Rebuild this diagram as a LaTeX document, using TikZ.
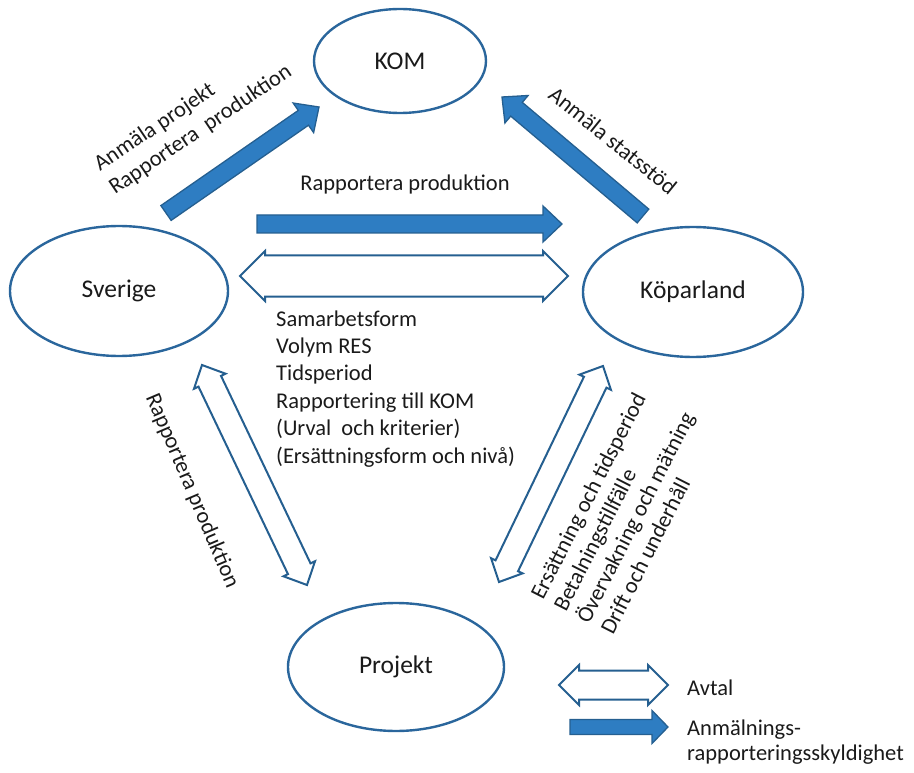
\documentclass[tikz,border=0pt]{standalone}
\usepackage{fontspec}
\setmainfont{Carlito}
\usetikzlibrary{calc,shapes.geometric}
\definecolor{afill}{HTML}{2E7DC2}
\definecolor{aline}{HTML}{255F90}
\definecolor{eline}{HTML}{2A669C}
\definecolor{txt}{HTML}{1A1A1A}

% filled single block arrow: from, to, half shaft, half head, head length
\newcommand{\fatarrow}[5]{%
  \coordinate (fh) at ($(#2)!#5!(#1)$);
  \draw[solidarrow] ($(#1)!#3!90:(#2)$) -- ($(fh)!#3!90:(#2)$) -- ($(fh)!#4!90:(#2)$) -- (#2)
     -- ($(fh)!#4!-90:(#2)$) -- ($(fh)!#3!-90:(#2)$) -- ($(#1)!#3!-90:(#2)$) -- cycle;}
% hollow double block arrow: end, end, half shaft, half head, head length
\newcommand{\twinarrow}[5]{%
  \coordinate (ta) at ($(#1)!#5!(#2)$);
  \coordinate (tb) at ($(#2)!#5!(#1)$);
  \draw[hollowarrow] (#1) -- ($(ta)!#4!90:(#2)$) -- ($(ta)!#3!90:(#2)$) -- ($(tb)!#3!90:(#2)$)
     -- ($(tb)!#4!90:(#2)$) -- (#2) -- ($(tb)!#4!-90:(#2)$) -- ($(tb)!#3!-90:(#2)$)
     -- ($(ta)!#3!-90:(#2)$) -- ($(ta)!#4!-90:(#2)$) -- cycle;}

\begin{document}
\begin{tikzpicture}[x=1pt,y=-1pt,
  lbl/.style={font=\fontsize{22.5}{27.4}\selectfont, text=txt, inner sep=0pt},
  ell/.style={ellipse, draw=eline, line width=2.4pt, inner sep=0pt, text=txt,
              font=\fontsize{25.5}{30}\selectfont},
  solidarrow/.style={fill=afill, draw=aline, line width=1.3pt, line join=miter},
  hollowarrow/.style={fill=white, draw=aline, line width=2pt, line join=miter}]
\useasboundingbox (0,0) rectangle (914,773);

% ellipses
\node[ell, minimum width=172pt, minimum height=104pt] (kom) at (400,61) {KOM};
\node[ell, minimum width=218pt, minimum height=130pt] (sve) at (119,291) {Sverige};
\node[ell, minimum width=220pt, minimum height=130pt] (kop) at (693,292) {Köparland};
\node[ell, minimum width=216pt, minimum height=128pt] (pro) at (396,667) {Projekt};

% arrow end points
\coordinate (a1s) at (166,213); \coordinate (a1e) at (319,107);
\coordinate (a2s) at (257,224); \coordinate (a2e) at (562,224);
\coordinate (a3s) at (643,216); \coordinate (a3e) at (502,97);
\coordinate (d1a) at (240,276); \coordinate (d1b) at (568,276);
\coordinate (d2a) at (202,365); \coordinate (d2b) at (307,585);
\coordinate (d3a) at (499,582); \coordinate (d3b) at (603,366);
\coordinate (l1a) at (559,685); \coordinate (l1b) at (668,685);
\coordinate (l2a) at (570,727); \coordinate (l2b) at (668,727);

\fatarrow{a1s}{a1e}{9pt}{18pt}{19pt}
\fatarrow{a2s}{a2e}{9pt}{18pt}{19pt}
\fatarrow{a3s}{a3e}{9pt}{18pt}{19pt}
\twinarrow{d1a}{d1b}{20.5pt}{25pt}{25pt}
\twinarrow{d2a}{d2b}{12.5pt}{17.5pt}{18pt}
\twinarrow{d3a}{d3b}{12.5pt}{17.5pt}{18pt}
\twinarrow{l1a}{l1b}{14.5pt}{20pt}{20pt}
\fatarrow{l2a}{l2b}{7.5pt}{16.5pt}{16pt}

% labels
\node[lbl] (t1) at (405,185) {Rapportera produktion};
\node[lbl, anchor=base west, rotate=34] (t2) at (100,172) {Anmäla projekt};
\node[lbl, anchor=base west, rotate=34] (t3) at (115,195) {Rapportera\ \ produktion};
\node[lbl, anchor=base west, rotate=-39] (t4) at (547,97) {Anmäla statsstöd};
\node[lbl, rotate=-67] (t5) at (192,491) {Rapportera produktion};

\node[lbl, anchor=base west, rotate=63] (r1) at (543,601) {Ersättning och tidsperiod};
\node[lbl, anchor=base west, rotate=63] (r2) at (566,613) {Betalningstillfälle};
\node[lbl, anchor=base west, rotate=63] (r3) at (589,625) {Övervakning och mätning};
\node[lbl, anchor=base west, rotate=63] (r4) at (613,636) {Drift och underhåll};

\node[lbl, anchor=base west] (s1) at (276,326) {Samarbetsform};
\node[lbl, anchor=base west] (s2) at (276,353.4) {Volym RES};
\node[lbl, anchor=base west] (s3) at (276,380.8) {Tidsperiod};
\node[lbl, anchor=base west] (s4) at (276,408.2) {Rapportering till KOM};
\node[lbl, anchor=base west] (s5) at (276,435.6) {(Urval\ \ och kriterier)};
\node[lbl, anchor=base west] (s6) at (276,463) {(Ersättningsform och nivå)};

% legend
\node[lbl, anchor=base west] (g1) at (687,695) {Avtal};
\node[lbl, anchor=base west] (g2) at (687,735) {Anmälnings-};
\node[lbl, anchor=base west] (g3) at (687,760) {rapporteringsskyldighet};
\end{tikzpicture}
\end{document}
